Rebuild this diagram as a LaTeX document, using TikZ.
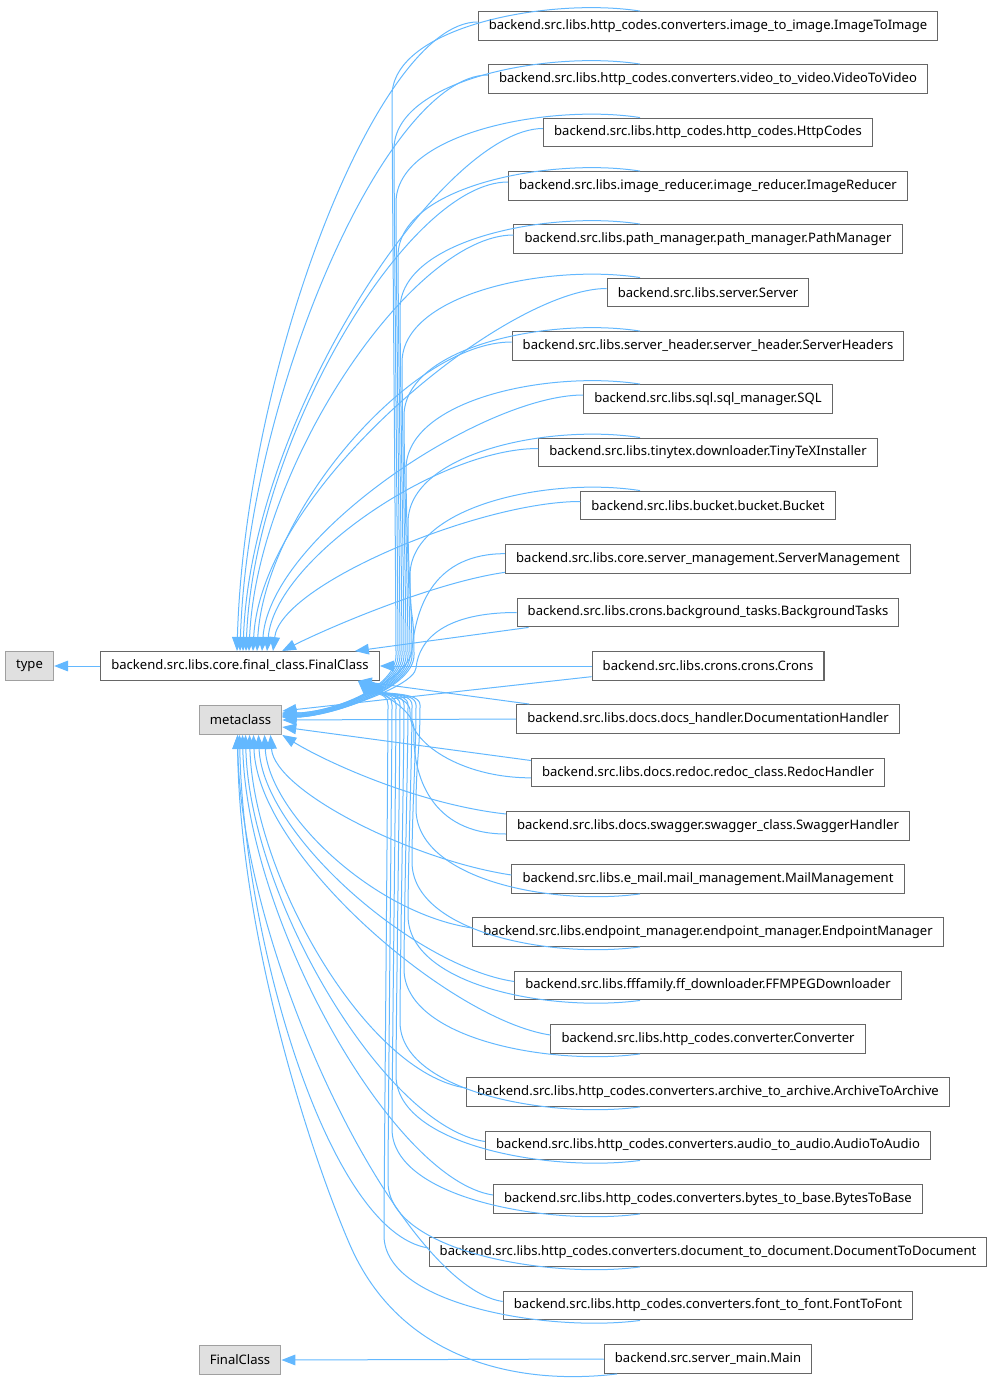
\documentclass[tikz,border=0pt]{standalone}
\usepackage{fontspec}
\setmainfont{Noto Sans}
\usetikzlibrary{calc,arrows.meta}
\definecolor{edgeblue}{HTML}{63B8FF}
\definecolor{boxline}{HTML}{666666}
\definecolor{greyline}{HTML}{A0A0A0}
\definecolor{greyfill}{HTML}{E0E0E0}
% edges of the upper classes
\def\upfc(#1)(#2:#3){\draw[derive] ([yshift=3pt]#1.west) .. controls +(-100,0) and +(8,-#3) .. ($(fc.north)+(#2,0)$);}
\def\upmeta(#1)(#2:#3){\draw[derive] (#1.north -| ax) .. controls +(-90,-14) and +(0,-70) .. ($(#1.north)+({#2-708},85)$) .. controls +(0,50) and +(0,-50) .. (#2+4,655) .. controls +(0,35) and +(45,0) .. ($(meta.east)+(0,#3)$);}
% edges of the lower classes
\def\lowmeta(#1)(#2:#3){\draw[derive] ([yshift=3pt]#1.west) .. controls +(-100,-15) and +(4,#3) .. ($(meta.south)+(#2,0)$);}
\def\lowfc(#1)(#2:#3){\draw[derive] (#1.south -| ax) .. controls +(-90,12) and +(0,70) .. ($(#1.south)+({#2-708},-85)$) .. controls +(0,-50) and +(0,50) .. (#2+4,705) .. controls +(0,-14) and +(14,14) .. ($(fc.south east)+(#3,0)$);}
\tikzset{
  cls/.style={draw=boxline, line width=0.8pt, fill=white, minimum height=21.6pt, inner xsep=8pt, inner ysep=0pt, font=\fontsize{9.8}{11}\selectfont},
  ext/.style={cls, draw=greyline, fill=greyfill},
  derive/.style={draw=edgeblue, line width=0.75pt, -{Triangle[length=10.5pt,width=8pt]}}
}

\begin{document}
\begin{tikzpicture}[x=0.75pt, y=-0.75pt]
		%%%%% START %%%%%
		\useasboundingbox (0,0) rectangle (997,1383);
		\coordinate (ax) at (640,0);
		
		\node[ext] (type) at (29.5,666) {type};
		\node[cls] (fc) at (240,666) {backend.src.libs.core.final\_class.FinalClass};
		\node[ext] (meta) at (240.5,720) {metaclass};
		\node[ext] (fcg) at (240,1360) {FinalClass};
		
		\node[cls] (r1) at (708,26) {backend.src.libs.http\_codes.converters.image\_to\_image.ImageToImage};
		\node[cls] (r2) at (708,79) {backend.src.libs.http\_codes.converters.video\_to\_video.VideoToVideo};
		\node[cls] (r3) at (708,132.5) {backend.src.libs.http\_codes.http\_codes.HttpCodes};
		\node[cls] (r4) at (708,186) {backend.src.libs.image\_reducer.image\_reducer.ImageReducer};
		\node[cls] (r5) at (708,239) {backend.src.libs.path\_manager.path\_manager.PathManager};
		\node[cls] (r6) at (708,292.5) {backend.src.libs.server.Server};
		\node[cls] (r7) at (708,346) {backend.src.libs.server\_header.server\_header.ServerHeaders};
		\node[cls] (r8) at (708,399) {backend.src.libs.sql.sql\_manager.SQL};
		\node[cls] (r9) at (708,452.5) {backend.src.libs.tinytex.downloader.TinyTeXInstaller};
		\node[cls] (r10) at (708,505.5) {backend.src.libs.bucket.bucket.Bucket};
		\node[cls] (r11) at (708,559) {backend.src.libs.core.server\_management.ServerManagement};
		\node[cls] (r12) at (708,612.5) {backend.src.libs.crons.background\_tasks.BackgroundTasks};
		\node[cls] (r13) at (708,666) {backend.src.libs.crons.crons.Crons};
		\node[cls] (r14) at (708,719) {backend.src.libs.docs.docs\_handler.DocumentationHandler};
		\node[cls] (r15) at (708,772.5) {backend.src.libs.docs.redoc.redoc\_class.RedocHandler};
		\node[cls] (r16) at (708,826) {backend.src.libs.docs.swagger.swagger\_class.SwaggerHandler};
		\node[cls] (r17) at (708,879) {backend.src.libs.e\_mail.mail\_management.MailManagement};
		\node[cls] (r18) at (708,932) {backend.src.libs.endpoint\_manager.endpoint\_manager.EndpointManager};
		\node[cls] (r19) at (708,985.5) {backend.src.libs.fffamily.ff\_downloader.FFMPEGDownloader};
		\node[cls] (r20) at (708,1039) {backend.src.libs.http\_codes.converter.Converter};
		\node[cls] (r21) at (708,1092) {backend.src.libs.http\_codes.converters.archive\_to\_archive.ArchiveToArchive};
		\node[cls] (r22) at (708,1145.5) {backend.src.libs.http\_codes.converters.audio\_to\_audio.AudioToAudio};
		\node[cls] (r23) at (708,1199) {backend.src.libs.http\_codes.converters.bytes\_to\_base.BytesToBase};
		\node[cls] (r24) at (708,1252) {backend.src.libs.http\_codes.converters.document\_to\_document.DocumentToDocument};
		\node[cls] (r25) at (708,1305.5) {backend.src.libs.http\_codes.converters.font\_to\_font.FontToFont};
		\node[cls] (r26) at (708,1359) {backend.src.server\_main.Main};
		
		\draw[derive] (fc.west) -- (type.east);
		
		% upper classes
		\upfc(r1)(-3:283)
		\upfc(r2)(0:259)
		\upfc(r3)(3:235)
		\upfc(r4)(6:211)
		\upfc(r5)(9:187)
		\upfc(r6)(13:163)
		\upfc(r7)(17:139)
		\upfc(r8)(22:115)
		\upfc(r9)(27:91)
		\upfc(r10)(33:67)
		
		\upmeta(r1)(392:-7)
		\upmeta(r2)(394:-7)
		\upmeta(r3)(396:-6)
		\upmeta(r4)(398:-6)
		\upmeta(r5)(400:-5)
		\upmeta(r6)(402:-5)
		\upmeta(r7)(404:-4)
		\upmeta(r8)(406:-4)
		\upmeta(r9)(408:-3)
		\upmeta(r10)(410:-3)
		
		% middle classes
		\draw[derive] ([yshift=-10pt]r11.west) .. controls +(-70,10) and +(50,-25) .. ($(fc.north)+(42,0)$);
		\draw[derive] ([yshift=4pt]r11.west) .. controls +(-70,0) and +(4,-45) .. (412,650) .. controls +(-2,30) and +(45,0) .. ($(meta.east)+(0,-4)$);
		\draw[derive] ([xshift=9pt]r12.south west) -- ($(fc.north east)+(-25,0)$);
		\draw[derive] (r12.west) .. controls +(-70,0) and +(3,-30) .. (416,668) .. controls +(-2,20) and +(40,0) .. ($(meta.east)+(0,-3)$);
		\draw[derive] (r13.west) -- (fc.east);
		\draw[derive] ([yshift=-8pt]r13.west) -- ($(meta.east)+(0,-9)$);
		\draw[derive] (r14.west) -- (meta.east);
		\draw[derive] ([xshift=10pt]r14.north west) -- ($(fc.south east)+(-22,0)$);
		\draw[derive] ([yshift=9pt]r15.west) -- ($(meta.east)+(0,7)$);
		\draw[derive] ([yshift=-4pt]r15.west) .. controls +(-70,0) and +(-2,30) .. (410,712) .. controls +(1,-15) and +(14,14) .. ($(fc.south east)+(-9,0)$);
		\draw[derive] ([yshift=9pt]r16.west) .. controls +(-90,-10) and +(40,25) .. (meta.south east);
		\draw[derive] ([yshift=-6pt]r16.west) .. controls +(-75,0) and +(-2,45) .. (414,730) .. controls +(1,-20) and +(14,14) .. ($(fc.south east)+(-12,0)$);
		
		% lower classes
		\lowmeta(r17)(30:56)
		\lowmeta(r18)(24:77)
		\lowmeta(r19)(18:99)
		\lowmeta(r20)(13:120)
		\lowmeta(r21)(9:141)
		\lowmeta(r22)(5:163)
		\lowmeta(r23)(2:184)
		\lowmeta(r24)(-1:205)
		\lowmeta(r25)(-3:227)
		
		\lowfc(r17)(416:-14)
		\lowfc(r18)(412:-15)
		\lowfc(r19)(408:-16)
		\lowfc(r20)(404:-17)
		\lowfc(r21)(400:-18)
		\lowfc(r22)(396:-19)
		\lowfc(r23)(392:-20)
		\lowfc(r24)(388:-21)
		\lowfc(r25)(384:-22)
		
		\draw[derive] (r26.west) -- (fcg.east);
		\draw[derive] ($(r26.south)+(-91,0)$) .. controls +(-100,12) and +(50,115) .. (350,1245) .. controls +(-40,-92) and +(2,200) .. ($(meta.south)+(-3,0)$);
		
		%%%%% END %%%%%
\end{tikzpicture}
\end{document}
